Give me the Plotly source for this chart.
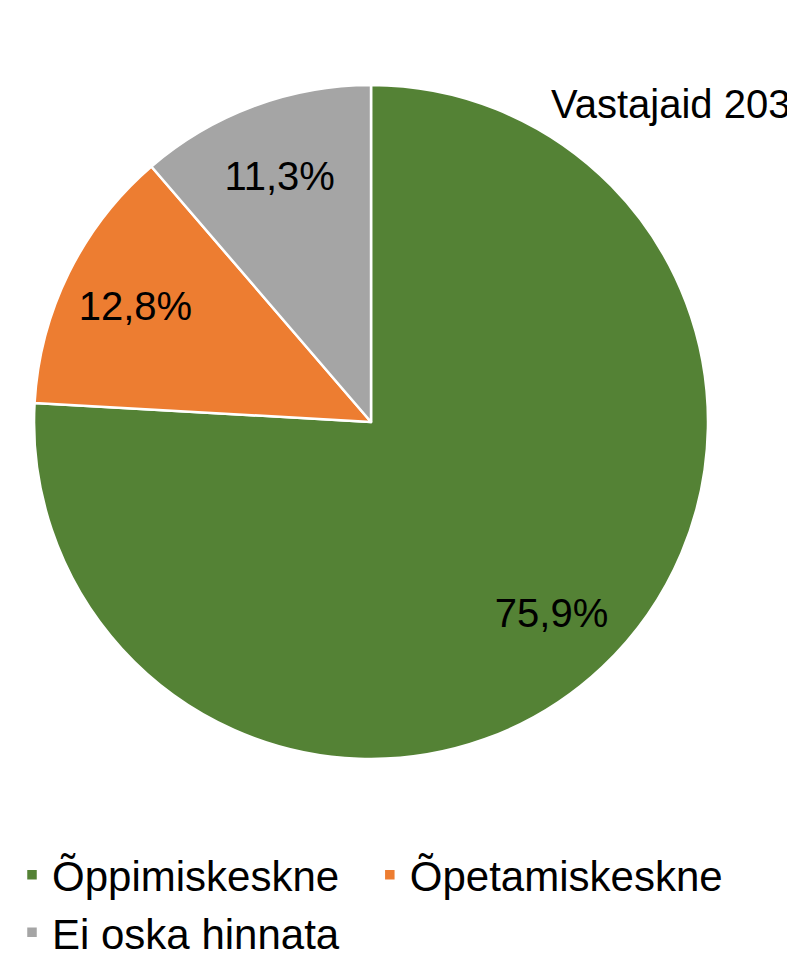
import plotly.graph_objects as go

labels = ["Õppimiskeskne", "Õpetamiskeskne", "Ei oska hinnata"]
values = [75.9, 12.8, 11.3]
colors = ["#548235", "#ED7D31", "#A5A5A5"]
note = "Vastajaid 203"

dx = -8 / 795
dy = 8 / 964
dom = dict(x=[0.0428 + dx, 0.8906 + dx], y=[0.2127 + dy, 0.9118 + dy])
FONT = "Liberation Sans, Arial"

# filled pie (no text)
fig = go.Figure(go.Pie(
    labels=labels,
    values=values,
    sort=False,
    direction="clockwise",
    rotation=0,
    marker=dict(colors=colors, line=dict(color="white", width=2.5)),
    textinfo="none",
    domain=dom,
    hoverinfo="skip",
))

# transparent ring on top, only to place the value labels out toward the rim
fig.add_trace(go.Pie(
    labels=labels,
    values=values,
    sort=False,
    direction="clockwise",
    rotation=0,
    hole=0.56,
    marker=dict(colors=["rgba(0,0,0,0)"] * 3, line=dict(width=0)),
    texttemplate="%{value:.1f}%",
    textposition="inside",
    insidetextorientation="horizontal",
    textfont=dict(family=FONT, size=40, color="black"),
    domain=dom,
    showlegend=False,
    hoverinfo="skip",
))

fig.update_layout(
    width=795, height=964,
    margin=dict(l=0, r=0, t=0, b=0),
    paper_bgcolor="white",
    separators=", ",
    font=dict(family=FONT, size=42, color="black"),
    showlegend=True,
    legend=dict(orientation="h", x=4 / 795, xanchor="left", y=0.136, yanchor="top",
                font=dict(size=42), itemwidth=30),
    annotations=[dict(text=note, x=541 / 795, y=1 - 96 / 964, xref="paper", yref="paper",
                      xanchor="left", yanchor="middle", showarrow=False,
                      font=dict(size=40, color="black"))],
)

fig.write_html("out.html")
